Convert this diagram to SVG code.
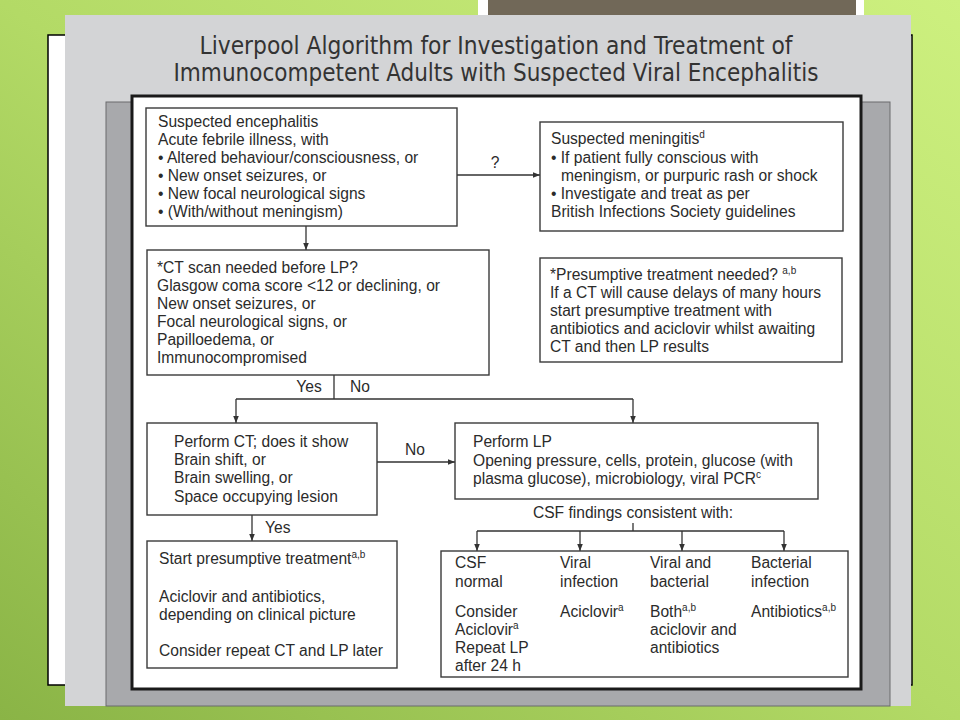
<svg xmlns="http://www.w3.org/2000/svg" width="960" height="720" viewBox="0 0 960 720">
<defs>
<linearGradient id="bg" x1="1" y1="0" x2="0" y2="1">
<stop offset="0" stop-color="#cdf07f"/>
<stop offset="0.5" stop-color="#b3da66"/>
<stop offset="1" stop-color="#8ab446"/>
</linearGradient>
<marker id="ah" viewBox="0 0 10 10" refX="10" refY="5" markerWidth="7" markerHeight="7" markerUnits="userSpaceOnUse" orient="auto">
<path d="M0,1 L10,5 L0,9 Z" fill="#333"/>
</marker>
<style>
.box{fill:#fff;stroke:#3a3a3a;stroke-width:1.4}
.t{font-family:"Liberation Sans",Arial,sans-serif;font-size:15.6px;fill:#2b2b2b}
.ttl{font-family:"DejaVu Sans Condensed","Liberation Sans",sans-serif;font-size:25px;fill:#333;text-anchor:middle}
.c{fill:none;stroke:#333;stroke-width:1.3}
.a{marker-end:url(#ah)}
.sup{font-size:10px}
</style>
</defs>
<rect width="960" height="720" fill="url(#bg)"/>
<rect x="478" y="0" width="386" height="15" fill="#fff"/>
<rect x="488" y="0" width="368" height="15" fill="#716858"/>
<rect x="48" y="35" width="864" height="650" fill="#fff" stroke="#000" stroke-width="1.5"/>
<rect x="65" y="15" width="846" height="691" fill="#d3d4d6"/>
<rect x="106" y="102" width="784" height="604" fill="#a8a9ac" stroke="#6a6a6c" stroke-width="1"/>
<rect x="132" y="96" width="729" height="593" fill="#fff" stroke="#1a1a1a" stroke-width="3"/>
<g id="title">
<text class="ttl" x="496" y="54" textLength="593" lengthAdjust="spacingAndGlyphs">Liverpool Algorithm for Investigation and Treatment of</text>
<text class="ttl" x="496" y="81" textLength="645" lengthAdjust="spacingAndGlyphs">Immunocompetent Adults with Suspected Viral Encephalitis</text>
</g>
<g id="connectors">
<path class="c a" d="M306,226 V250"/>
<path class="c a" d="M457,175 H540"/>
<path class="c" d="M334,375 V399 M236,399 H633"/>
<path class="c a" d="M236,399 V423"/>
<path class="c a" d="M633,399 V423"/>
<path class="c a" d="M377,462 H455"/>
<path class="c a" d="M252,515 V541"/>
<path class="c" d="M633,523 V531 M477,531 H784"/>
<path class="c a" d="M477,531 V551"/>
<path class="c a" d="M580,531 V551"/>
<path class="c a" d="M682,531 V551"/>
<path class="c a" d="M784,531 V551"/>
<text class="t" x="495" y="168" text-anchor="middle">?</text>
<text class="t" x="309" y="392" text-anchor="middle">Yes</text>
<text class="t" x="360" y="392" text-anchor="middle">No</text>
<text class="t" x="415" y="455" text-anchor="middle">No</text>
<text class="t" x="265" y="533">Yes</text>
<text class="t" x="633" y="518" text-anchor="middle">CSF findings consistent with:</text>
</g>
<g id="n1">
<rect class="box" x="146" y="108" width="311" height="118"/>
<text class="t" x="158" y="127">Suspected encephalitis</text>
<text class="t" x="158" y="145">Acute febrile illness, with</text>
<text class="t" x="158" y="163">• Altered behaviour/consciousness, or</text>
<text class="t" x="158" y="181">• New onset seizures, or</text>
<text class="t" x="158" y="199">• New focal neurological signs</text>
<text class="t" x="158" y="217">• (With/without meningism)</text>
</g>
<g id="n2">
<rect class="box" x="540" y="122" width="303" height="109"/>
<text class="t" x="551" y="144">Suspected meningitis<tspan class="sup" dy="-6">d</tspan></text>
<text class="t" x="551" y="163">• If patient fully conscious with</text>
<text class="t" x="561" y="181">meningism, or purpuric rash or shock</text>
<text class="t" x="551" y="199">• Investigate and treat as per</text>
<text class="t" x="551" y="217">British Infections Society guidelines</text>
</g>
<g id="n3">
<rect class="box" x="147" y="250" width="342" height="125"/>
<text class="t" x="157" y="273">*CT scan needed before LP?</text>
<text class="t" x="157" y="291">Glasgow coma score &lt;12 or declining, or</text>
<text class="t" x="157" y="309">New onset seizures, or</text>
<text class="t" x="157" y="327">Focal neurological signs, or</text>
<text class="t" x="157" y="345">Papilloedema, or</text>
<text class="t" x="157" y="363">Immunocompromised</text>
</g>
<g id="n4">
<rect class="box" x="540" y="258" width="302" height="104"/>
<text class="t" x="550" y="280">*Presumptive treatment needed? <tspan class="sup" dy="-6">a,b</tspan></text>
<text class="t" x="550" y="298">If a CT will cause delays of many hours</text>
<text class="t" x="550" y="316">start presumptive treatment with</text>
<text class="t" x="550" y="334">antibiotics and aciclovir whilst awaiting</text>
<text class="t" x="550" y="352">CT and then LP results</text>
</g>
<g id="n5">
<rect class="box" x="147" y="423" width="230" height="92"/>
<text class="t" x="174" y="447">Perform CT; does it show</text>
<text class="t" x="174" y="465">Brain shift, or</text>
<text class="t" x="174" y="483">Brain swelling, or</text>
<text class="t" x="174" y="502">Space occupying lesion</text>
</g>
<g id="n6">
<rect class="box" x="455" y="423" width="363" height="76"/>
<text class="t" x="473" y="447">Perform LP</text>
<text class="t" x="473" y="466">Opening pressure, cells, protein, glucose (with</text>
<text class="t" x="473" y="484">plasma glucose), microbiology, viral PCR<tspan class="sup" dy="-6">c</tspan></text>
</g>
<g id="n7">
<rect class="box" x="147" y="541" width="250" height="127"/>
<text class="t" x="159" y="564">Start presumptive treatment<tspan class="sup" dy="-6">a,b</tspan></text>
<text class="t" x="159" y="602">Aciclovir and antibiotics,</text>
<text class="t" x="159" y="620">depending on clinical picture</text>
<text class="t" x="159" y="656">Consider repeat CT and LP later</text>
</g>
<g id="n8">
<rect class="box" x="441" y="551" width="407" height="126"/>
<text class="t" x="455" y="568">CSF</text>
<text class="t" x="455" y="587">normal</text>
<text class="t" x="455" y="617">Consider</text>
<text class="t" x="455" y="635">Aciclovir<tspan class="sup" dy="-6">a</tspan></text>
<text class="t" x="455" y="653">Repeat LP</text>
<text class="t" x="455" y="671">after 24 h</text>
<text class="t" x="560" y="568">Viral</text>
<text class="t" x="560" y="587">infection</text>
<text class="t" x="560" y="617">Aciclovir<tspan class="sup" dy="-6">a</tspan></text>
<text class="t" x="650" y="568">Viral and</text>
<text class="t" x="650" y="587">bacterial</text>
<text class="t" x="650" y="617">Both<tspan class="sup" dy="-6">a,b</tspan></text>
<text class="t" x="650" y="635">aciclovir and</text>
<text class="t" x="650" y="653">antibiotics</text>
<text class="t" x="751" y="568">Bacterial</text>
<text class="t" x="751" y="587">infection</text>
<text class="t" x="751" y="617">Antibiotics<tspan class="sup" dy="-6">a,b</tspan></text>
</g>
</svg>
